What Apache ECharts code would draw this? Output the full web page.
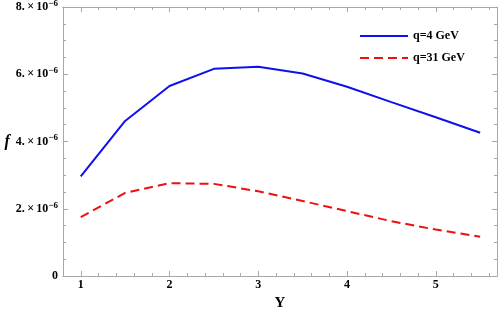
<!DOCTYPE html>
<html><head><meta charset="utf-8">
<script src="https://cdn.jsdelivr.net/npm/echarts@6/dist/echarts.min.js"></script>
<style>html,body{margin:0;padding:0;background:#fff}#c{width:498px;height:310px}</style>
</head><body><div id="c"></div>
<script>
const yValues = [1, 1.5, 2, 2.5, 3, 3.5, 4, 4.5, 5, 5.5];
const q4 = [2.96e-6, 4.61e-6, 5.65e-6, 6.16e-6, 6.22e-6, 6.02e-6, 5.63e-6, 5.17e-6, 4.72e-6, 4.26e-6];
const q31 = [1.75e-6, 2.47e-6, 2.76e-6, 2.74e-6, 2.52e-6, 2.23e-6, 1.93e-6, 1.63e-6, 1.38e-6, 1.17e-6];
const seriesNames = ['q=4 GeV', 'q=31 GeV'];
const xMajor = [1, 2, 3, 4, 5];
const xMinor = [0.8, 1.2, 1.4, 1.6, 1.8, 2.2, 2.4, 2.6, 2.8, 3.2, 3.4, 3.6, 3.8, 4.2, 4.4, 4.6, 4.8, 5.2, 5.4, 5.6];
const yTickLabels = {0: '0', 2e-6: '2.', 4e-6: '4.', 6e-6: '6.', 8e-6: '8.'};

const font = 'Liberation Serif';
const gray = '#a8a8a8';
const chart = echarts.init(document.getElementById('c'));
const pair = a => yValues.map((x, i) => [x, a[i]]);

function xAxisDef(pos, vals, len, labels, name) {
  return {
    type: 'value', position: pos, min: 0.8, max: 5.69,
    axisLine: {show: true, lineStyle: {color: gray, width: 1}},
    axisTick: {show: true, inside: true, length: len, customValues: vals, lineStyle: {color: gray}},
    axisLabel: labels ? {show: true, customValues: xMajor, fontFamily: font, fontWeight: 'bold', fontSize: 12, color: '#000', margin: 3} : {show: false},
    splitLine: {show: false},
    name: name || '', nameLocation: 'middle', nameGap: 17,
    nameTextStyle: {fontFamily: font, fontWeight: 'bold', fontSize: 15, color: '#000'}
  };
}
function yAxisDef(pos, labels, name) {
  return {
    type: 'value', position: pos, min: 0, max: 8e-6, interval: 2e-6,
    axisLine: {show: true, lineStyle: {color: gray, width: 1}},
    axisTick: {show: true, inside: true, length: 5, lineStyle: {color: gray}},
    minorTick: {show: true, splitNumber: 4, length: 3, lineStyle: {color: gray}},
    axisLabel: labels ? {
      show: true, fontFamily: font, fontWeight: 'bold', fontSize: 12, color: '#000', margin: 5,
      formatter: v => {
        const k = Math.round(v / 2e-6) * 2e-6;
        const lab = yTickLabels[k] !== undefined ? yTickLabels[k] : '';
        if (v === 0) return '{b|0}';
        return '{b|' + lab + '\u2009\u00d7\u200910}{s|\u22126}';
      },
      rich: {
        b: {fontFamily: font, fontWeight: 'bold', fontSize: 12, color: '#000'},
        s: {fontFamily: font, fontWeight: 'bold', fontSize: 9, color: '#000', verticalAlign: 'top', padding: [0, 0, 7, 0]}
      }
    } : {show: false},
    splitLine: {show: false},
    name: name || '', nameLocation: 'middle', nameGap: 52, nameRotate: 0,
    nameTextStyle: {fontFamily: font, fontStyle: 'italic', fontWeight: 'bold', fontSize: 16, color: '#000'}
  };
}

chart.setOption({
  animation: false,
  grid: {left: 63, right: 1, top: 7, bottom: 34, containLabel: false, outerBoundsMode: 'none'},
  legend: {
    orient: 'vertical', left: 354, top: 25, itemGap: 10, itemWidth: 48, itemHeight: 12,
    data: seriesNames,
    itemStyle: {opacity: 0},
    textStyle: {fontFamily: font, fontWeight: 'bold', fontSize: 12, color: '#000'}
  },
  xAxis: [
    xAxisDef('bottom', xMajor, 5, true, 'Y'),
    xAxisDef('bottom', xMinor, 3, false),
    xAxisDef('top', xMajor, 5, false),
    xAxisDef('top', xMinor, 3, false)
  ],
  yAxis: [yAxisDef('left', true, 'f'), yAxisDef('right', false)],
  series: [
    {name: seriesNames[0], type: 'line', data: pair(q4), symbol: 'none', xAxisIndex: 0, yAxisIndex: 0,
     lineStyle: {color: '#1010ee', width: 2}, itemStyle: {color: '#1010ee'}},
    {name: seriesNames[1], type: 'line', data: pair(q31), symbol: 'none', xAxisIndex: 0, yAxisIndex: 0,
     lineStyle: {color: '#ee1010', width: 2, type: [9, 5]}, itemStyle: {color: '#ee1010'}}
  ]
});
</script></body></html>
